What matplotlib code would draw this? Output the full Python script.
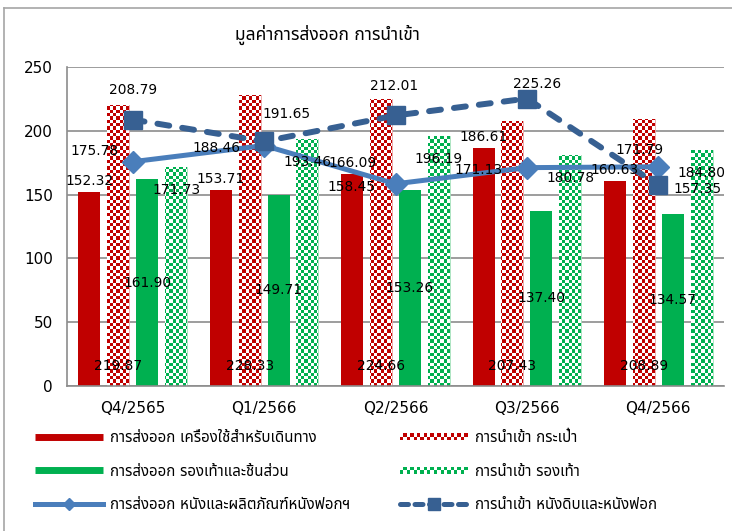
import numpy as np
import matplotlib
matplotlib.use('Agg')
from matplotlib import pyplot as plt
from matplotlib import font_manager
from matplotlib.colors import to_rgb
from matplotlib.ft2font import FT2Font
from matplotlib.patches import Rectangle, Patch
from matplotlib.lines import Line2D
from matplotlib.legend_handler import HandlerBase

quarters = ['Q4/2565', 'Q1/2566', 'Q2/2566', 'Q3/2566', 'Q4/2566']
export_travel = [152.32, 153.71, 166.09, 186.61, 160.63]   # ส่งออก เครื่องใช้สำหรับเดินทาง
import_bags = [219.87, 228.33, 224.66, 207.43, 208.89]     # นำเข้า กระเป๋า
export_shoes = [161.90, 149.71, 153.26, 137.40, 134.57]    # ส่งออก รองเท้าและชิ้นส่วน
import_shoes = [171.73, 193.46, 196.19, 180.78, 184.80]    # นำเข้า รองเท้า
export_leather = [175.78, 188.46, 158.45, 171.13, 171.79]  # ส่งออก หนังและผลิตภัณฑ์หนังฟอกฯ
import_leather = [208.79, 191.65, 212.01, 225.26, 157.35]  # นำเข้า หนังดิบและหนังฟอก

series_names = ['การส่งออก เครื่องใช้สำหรับเดินทาง', 'การนำเข้า กระเป๋า',
                'การส่งออก รองเท้าและชิ้นส่วน', 'การนำเข้า รองเท้า',
                'การส่งออก หนังและผลิตภัณฑ์หนังฟอกฯ', 'การนำเข้า หนังดิบและหนังฟอก']
title = 'มูลค่าการส่งออก การนำเข้า'

RED = '#C00000'
GREEN = '#00B050'
BLUE = '#4A7EBB'
DARKBLUE = '#376092'
GRID = '#8C8C8C'


def thai_font():  # first installed font that has thai glyphs
    found = []
    for f in font_manager.fontManager.ttflist:
        try:
            if 0x0E01 in FT2Font(f.fname).get_charmap():
                found.append(f.name)
        except Exception:
            pass
    for pref in ['Tahoma', 'Noto Sans Thai', 'Noto Sans Thai UI', 'Loma', 'Garuda', 'Umpush']:
        if pref in found:
            return pref
    return found[0] if found else None


th = thai_font()
plt.rcParams['font.family'] = ['DejaVu Sans', th] if th else ['DejaVu Sans']


def checker(color, nrows, ncols):  # red/green and white squares
    img = np.ones((nrows, ncols, 3))
    mask = np.add.outer(np.arange(nrows), np.arange(ncols)) % 2 == 0
    img[mask] = to_rgb(color)
    return img


class HandlerChecker(HandlerBase):  # checkered strip for the legend
    def create_artists(self, legend, orig_handle, xdescent, ydescent,
                       width, height, fontsize, trans):
        cols = 20
        cw = width / cols
        ch = 2.5
        y0 = height / 2 - ydescent - ch
        arts = []
        for i in range(cols):
            for j in range(2):
                if (i + j) % 2 == 0:
                    arts.append(Rectangle((-xdescent + i * cw, y0 + j * ch), cw, ch,
                                          facecolor=orig_handle.get_facecolor(),
                                          edgecolor='none', transform=trans))
        return arts


fig = plt.figure(figsize=(7.32, 5.31), dpi=100)
W, H = 732, 531
ax = fig.add_axes([67 / W, 145 / H, 657 / W, 319 / H])

x = np.arange(len(quarters))
step = 0.22
w = 0.167
b1 = ax.bar(x - 1.5 * step, export_travel, w, color=RED, zorder=2)
b2 = ax.bar(x - 0.5 * step, import_bags, w, color='white', edgecolor='#E8A0A0', lw=0.6, zorder=2)
b3 = ax.bar(x + 0.5 * step, export_shoes, w, color=GREEN, zorder=2)
b4 = ax.bar(x + 1.5 * step, import_shoes, w, color='white', edgecolor='#A0E0B8', lw=0.6, zorder=2)

# checkered fill, clipped to each bar
red_img = checker(RED, 96, 199)
green_img = checker(GREEN, 96, 199)
for bars, img in [(b2, red_img), (b4, green_img)]:
    for rect in bars:
        im = ax.imshow(img, extent=(-0.5, 4.5, 0, 250), aspect='auto',
                       interpolation='nearest', zorder=2.1)
        im.set_clip_path(rect)

ax.plot(x, export_leather, color=BLUE, lw=3.6, marker='D', ms=11, zorder=4)
ax.plot(x, import_leather, color=DARKBLUE, lw=4.3, ls=(0, (2.0, 2.2)),
        dash_capstyle='round', marker='s', ms=13, zorder=5)

ax.set_xlim(-0.5, 4.5)
ax.set_ylim(0, 250)
ax.set_yticks(range(0, 251, 50))
ax.set_xticks(x)
ax.set_xticklabels(quarters)
ax.tick_params(axis='y', length=0, pad=10, labelsize=11)
ax.tick_params(axis='x', length=0, pad=11, labelsize=11)
ax.grid(axis='y', color=GRID, lw=1.2, zorder=0)
ax.set_axisbelow(True)
for s in ['top', 'right']:
    ax.spines[s].set_visible(False)
for s in ['left', 'bottom']:
    ax.spines[s].set_color(GRID)
    ax.spines[s].set_linewidth(1.2)

# data labels
lab = dict(fontsize=9.9, textcoords='offset pixels', ha='center', zorder=6)
for i in range(len(quarters)):
    ax.annotate(f'{export_travel[i]:.2f}', (x[i] - 1.5 * step, export_travel[i]), xytext=(0, 4), va='bottom', **lab)
    ax.annotate(f'{import_bags[i]:.2f}', (x[i] - 0.5 * step, 0), xytext=(0, 20), va='center', **lab)
    ax.annotate(f'{export_shoes[i]:.2f}', (x[i] + 0.5 * step, export_shoes[i] / 2), xytext=(0, 0), va='center', **lab)
    ax.annotate(f'{import_shoes[i]:.2f}', (x[i] + 1.5 * step, import_shoes[i]), xytext=(0, -16), va='top', **lab)

# line labels sit beside the markers
solid_off = [(-38, 11), (-48, -2), (-44, -3), (-48, -2), (-19, 17)]
dash_off = [(0, 30), (22, 27), (-1, 29), (10, 15), (39, -4)]
for i in range(len(quarters)):
    ax.annotate(f'{export_leather[i]:.2f}', (x[i], export_leather[i]), xytext=solid_off[i], va='center', **lab)
    ax.annotate(f'{import_leather[i]:.2f}', (x[i], import_leather[i]), xytext=dash_off[i], va='center', **lab)

fig.text(327 / W, 1 - 35 / H, title, ha='center', va='center', fontsize=12.5)

# outer chart border (left and top edges only show)
fig.add_artist(Line2D([4 / W, 4 / W], [0, 1 - 8 / H], transform=fig.transFigure, color='#A6A6A6', lw=1.2))
fig.add_artist(Line2D([4 / W, 1], [1 - 8 / H, 1 - 8 / H], transform=fig.transFigure, color='#A6A6A6', lw=1.2))

# legend in two columns
h_red = Line2D([], [], color=RED, lw=5, solid_capstyle='butt')
h_green = Line2D([], [], color=GREEN, lw=5, solid_capstyle='butt')
h_exp = Line2D([], [], color=BLUE, lw=3.6, marker='D', ms=6)
h_redc = Patch(facecolor=RED)
h_greenc = Patch(facecolor=GREEN)
h_imp = Line2D([], [], color=DARKBLUE, lw=3.6, ls=(0, (1.6, 1.3)), dash_capstyle='round', marker='s', ms=8)

leg_kw = dict(loc='center left', frameon=False, fontsize=10.8, borderpad=0, borderaxespad=0,
              handlelength=4.5, handletextpad=0.53, labelspacing=1.22,
              bbox_transform=fig.transFigure, handler_map={Patch: HandlerChecker()})
leg1 = ax.legend([h_red, h_green, h_exp], [series_names[0], series_names[2], series_names[4]],
                 bbox_to_anchor=(35 / W, 1 - 471 / H), **leg_kw)
ax.add_artist(leg1)
ax.legend([h_redc, h_greenc, h_imp], [series_names[1], series_names[3], series_names[5]],
          bbox_to_anchor=(400 / W, 1 - 471 / H), **leg_kw)

plt.savefig('out.png', dpi=100)
